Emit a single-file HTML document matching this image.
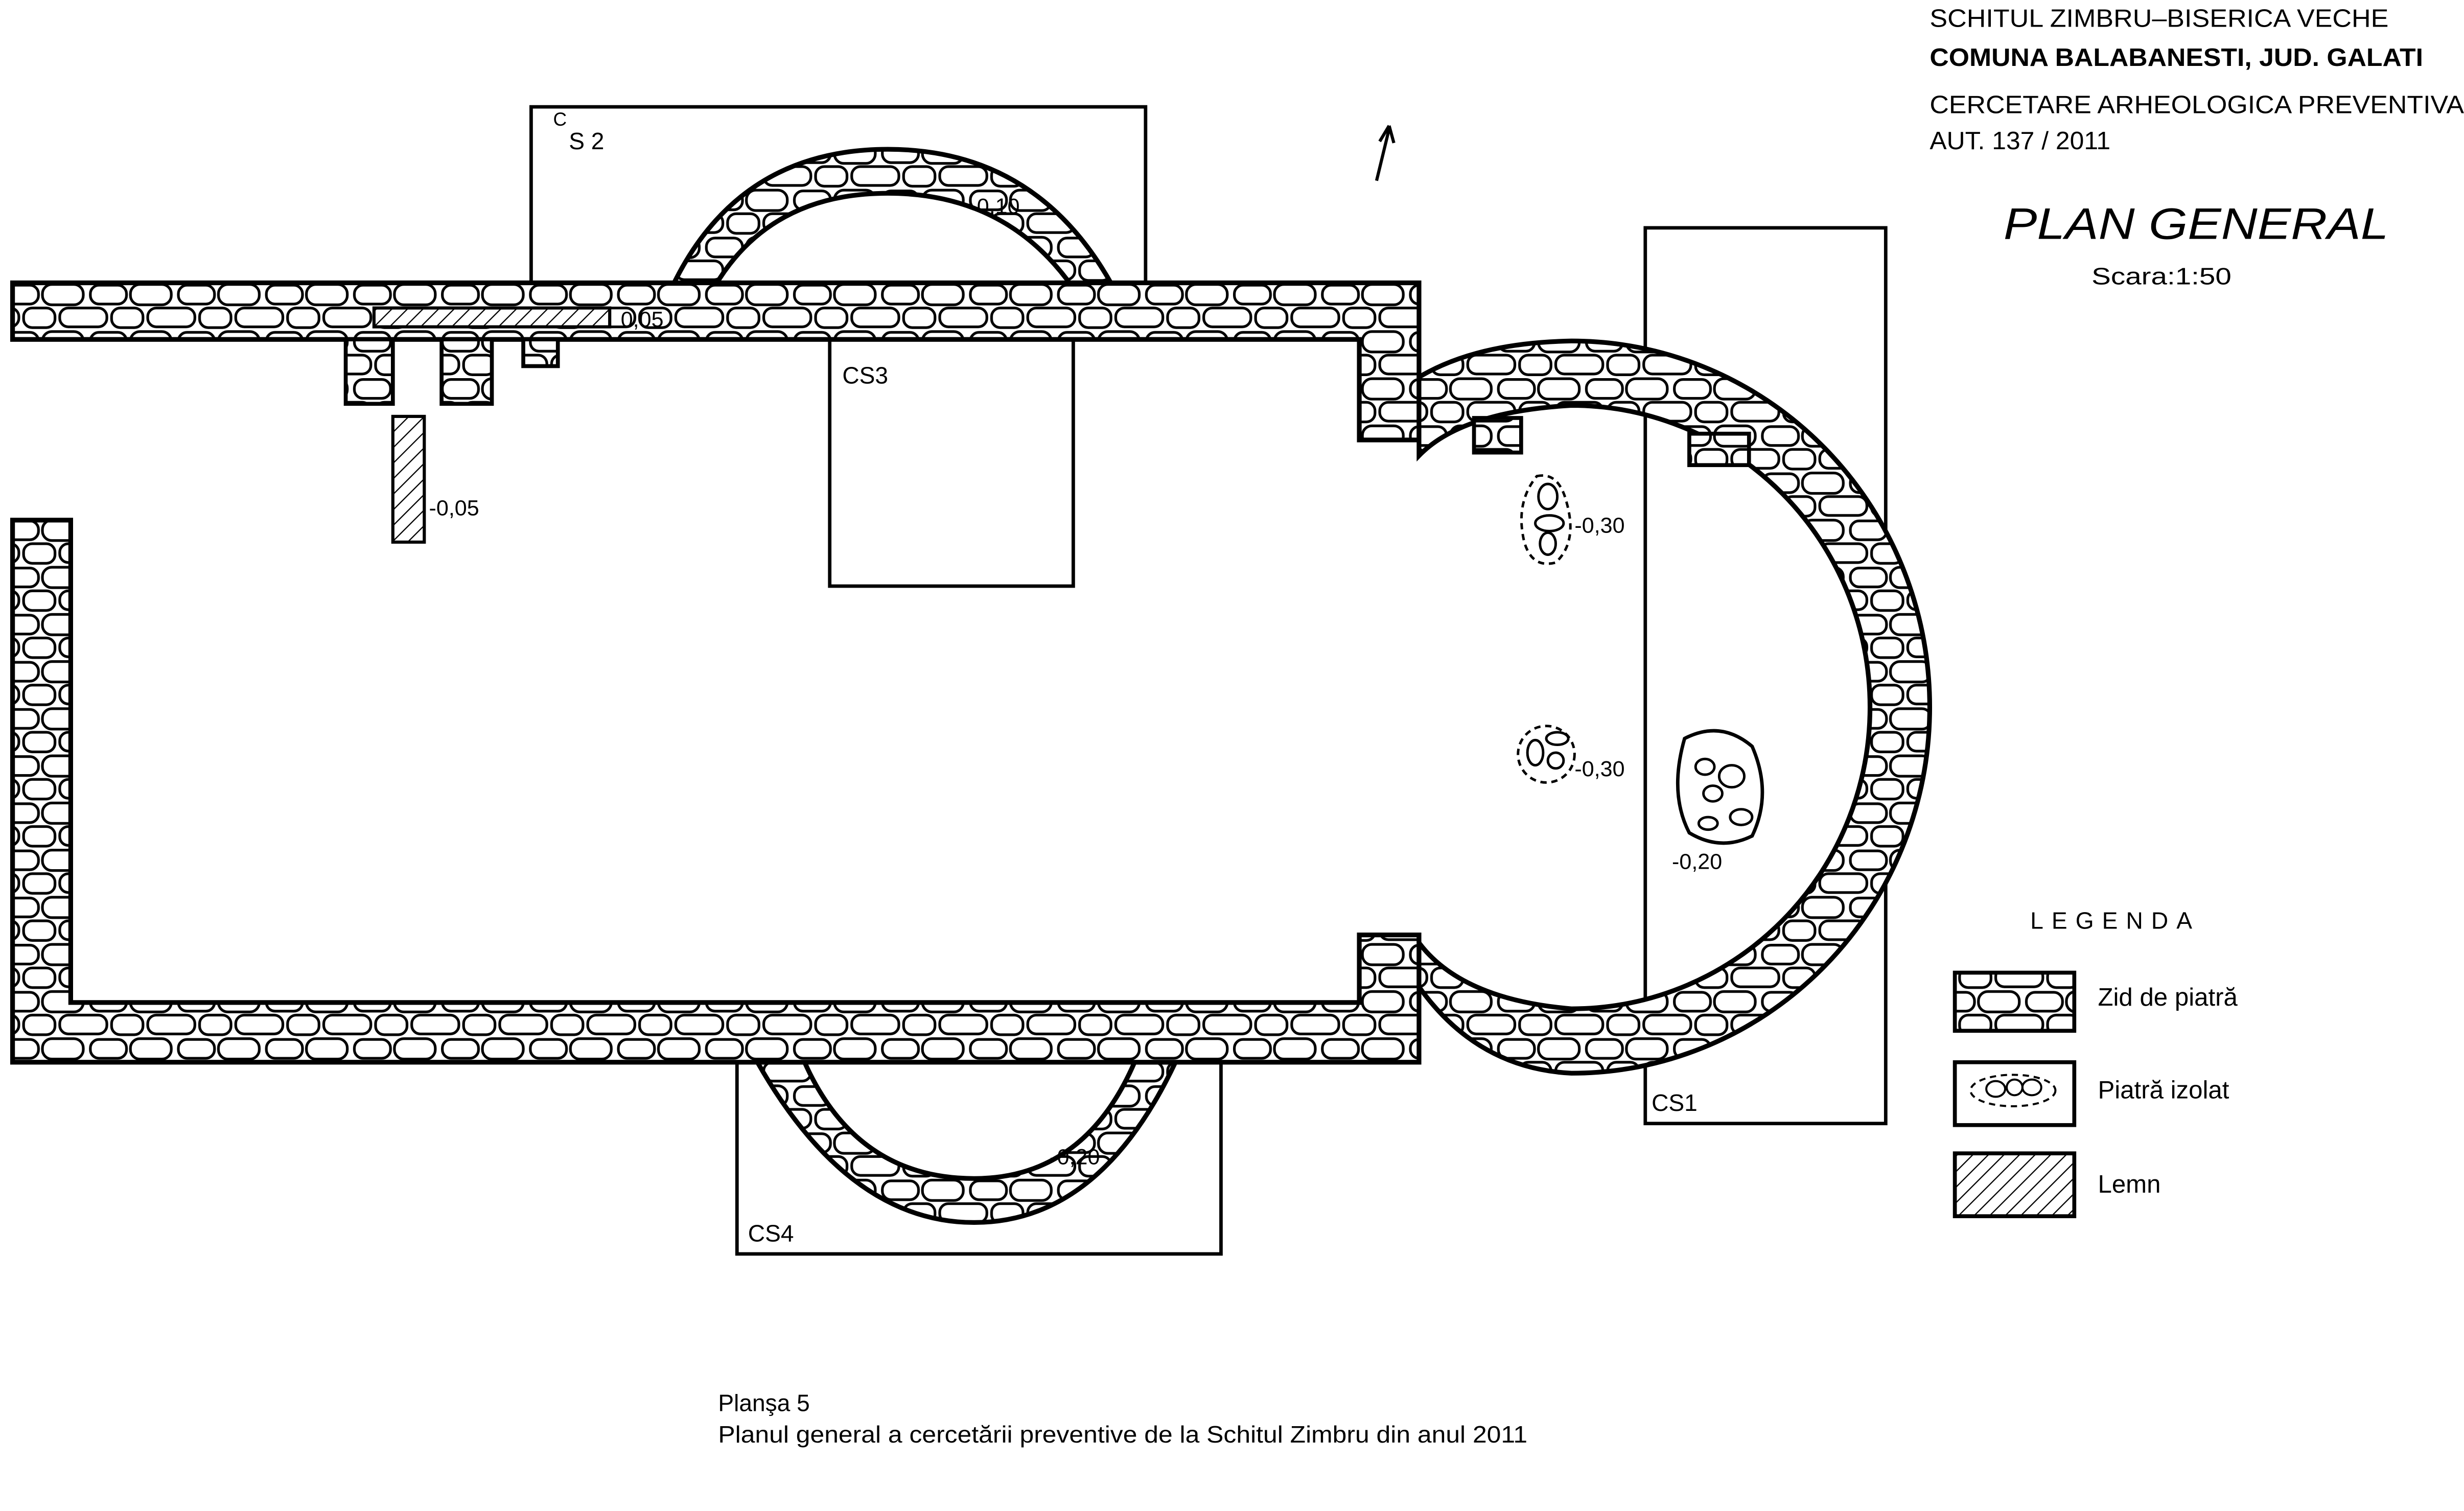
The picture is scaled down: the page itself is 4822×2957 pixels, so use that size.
<!DOCTYPE html>
<html><head><meta charset="utf-8"><style>
html,body{margin:0;padding:0;background:#fff}
svg{display:block}
text{font-family:"Liberation Sans",sans-serif;fill:#000}
</style></head><body>
<svg width="4822" height="2957" viewBox="0 0 1568 961.6" preserveAspectRatio="none" xmlns="http://www.w3.org/2000/svg">
<defs>
<pattern id="st" patternUnits="userSpaceOnUse" width="56" height="30">
<rect width="56" height="30" fill="#fff"/>
<g fill="none" stroke="#000" stroke-width="1.7">
<rect x="1.5" y="1.5" width="23" height="12" rx="5.5"/>
<rect x="27" y="1" width="26" height="13" rx="6"/>
<rect x="-12" y="16" width="24" height="12" rx="5.5"/>
<rect x="15" y="16" width="20" height="12.5" rx="5.5"/>
<rect x="38" y="16" width="24" height="12" rx="5.5"/>
</g>
</pattern>
<pattern id="hat" patternUnits="userSpaceOnUse" width="7" height="7" patternTransform="rotate(45)">
<rect width="7" height="7" fill="#fff"/><line x1="0" y1="0" x2="0" y2="7" stroke="#000" stroke-width="1.5"/>
</pattern>
</defs>

<g fill="none" stroke="#000" stroke-width="2.2">
<rect x="338" y="68" width="391" height="112"/>
<rect x="528" y="216" width="155" height="157"/>
<rect x="1047" y="145" width="153" height="570"/>
<rect x="469" y="676" width="308" height="122"/>
</g>

<path d="M428,182 Q470,95 565,95 Q660,95 708,182 L682,182 Q640,123 565,123 Q490,123 455,182 Z" fill="url(#st)" stroke="#000" stroke-width="3"/>
<path d="M482,676 Q540,778 620,778 Q700,778 748,676 L722,676 Q690,750 620,750 Q545,750 512,676 Z" fill="url(#st)" stroke="#000" stroke-width="3"/>

<path d="M8,180 H903 V280 H865 V216 H8 Z" fill="url(#st)" stroke="#000" stroke-width="3"/>
<path d="M8,331 H45 V638 H865 V595 H903 V676 H8 Z" fill="url(#st)" stroke="#000" stroke-width="3"/>
<path d="M903,240 Q940,218 1000,217 A228,233 0 0 1 1000,683 Q940,680 903,628 L903,600 Q930,636 1000,642 A190,192 0 0 0 1000,258 Q930,262 903,290 Z" fill="url(#st)" stroke="#000" stroke-width="3"/>
<rect x="938" y="266" width="30" height="22" fill="url(#st)" stroke="#000" stroke-width="2.5"/>
<rect x="1075" y="276" width="38" height="20" fill="url(#st)" stroke="#000" stroke-width="2.5"/>

<rect x="220" y="216" width="30" height="41" fill="url(#st)" stroke="#000" stroke-width="2.5"/>
<rect x="281" y="216" width="32" height="41" fill="url(#st)" stroke="#000" stroke-width="2.5"/>
<rect x="333" y="216" width="22" height="17" fill="url(#st)" stroke="#000" stroke-width="2.5"/>
<rect x="238" y="196" width="150" height="12" fill="url(#hat)" stroke="#000" stroke-width="2"/>
<rect x="250" y="265" width="20" height="80" fill="url(#hat)" stroke="#000" stroke-width="2"/>

<g fill="none" stroke="#000" stroke-width="1.6">
<path d="M978,303 Q992,300 997,320 Q1004,345 990,358 Q975,362 970,345 Q964,320 978,303 Z" stroke-dasharray="4,3"/>
<ellipse cx="985" cy="316" rx="6" ry="8"/><ellipse cx="986" cy="333" rx="9" ry="5"/><ellipse cx="985" cy="346" rx="5" ry="7"/>
<ellipse cx="984" cy="480" rx="18" ry="18" stroke-dasharray="4,3"/>
<ellipse cx="977" cy="479" rx="5" ry="8"/><ellipse cx="991" cy="470" rx="7" ry="4"/><ellipse cx="990" cy="484" rx="5" ry="5"/>
<path d="M1072,470 Q1095,458 1115,475 Q1128,505 1115,532 Q1095,542 1075,530 Q1062,505 1072,470 Z" stroke-width="2.2"/>
<ellipse cx="1085" cy="488" rx="6" ry="5"/><ellipse cx="1102" cy="494" rx="8" ry="7"/><ellipse cx="1090" cy="505" rx="6" ry="5"/><ellipse cx="1108" cy="520" rx="7" ry="5"/><ellipse cx="1087" cy="524" rx="6" ry="4"/>
</g>

<line x1="876" y1="115" x2="884" y2="82" stroke="#000" stroke-width="2"/>
<path d="M884,80 L878,90 M884,80 L887,91" stroke="#000" stroke-width="2" fill="none"/>

<g font-size="15">
<text x="352" y="80" font-size="12">C</text><text x="362" y="95">S 2</text>
<text x="536" y="244">CS3</text>
<text x="1051" y="707">CS1</text>
<text x="476" y="790">CS4</text>
<text x="395" y="208" font-size="14">0,05</text>
<text x="273" y="328" font-size="14">-0,05</text>
<text x="617" y="136" font-size="14">-0,10</text>
<text x="1002" y="339" font-size="14">-0,30</text>
<text x="1002" y="494" font-size="14">-0,30</text>
<text x="1064" y="553" font-size="14">-0,20</text>
<text x="668" y="741" font-size="14">-0,20</text>
</g>

<g font-size="16">
<text x="1228" y="17" textLength="292" lengthAdjust="spacingAndGlyphs">SCHITUL ZIMBRU–BISERICA VECHE</text>
<text x="1228" y="42" font-weight="bold" textLength="314" lengthAdjust="spacingAndGlyphs">COMUNA BALABANESTI, JUD. GALATI</text>
<text x="1228" y="72" textLength="340" lengthAdjust="spacingAndGlyphs">CERCETARE  ARHEOLOGICA  PREVENTIVA</text>
<text x="1228" y="95" textLength="115" lengthAdjust="spacingAndGlyphs">AUT. 137 / 2011</text>
</g>
<text x="1275" y="152" font-size="28" font-style="italic" textLength="245" lengthAdjust="spacingAndGlyphs">PLAN GENERAL</text>
<text x="1331" y="181" font-size="15" textLength="89" lengthAdjust="spacingAndGlyphs">Scara:1:50</text>

<text x="1292" y="591" font-size="15" textLength="103" lengthAdjust="spacing">LEGENDA</text>
<rect x="1244" y="619" width="76" height="37" fill="url(#st)" stroke="#000" stroke-width="2.5"/>
<rect x="1244" y="676" width="76" height="40" fill="#fff" stroke="#000" stroke-width="2.5"/>
<g fill="none" stroke="#000" stroke-width="1.3">
<ellipse cx="1281" cy="694" rx="27" ry="10" stroke-dasharray="4,3"/>
<ellipse cx="1270" cy="693" rx="6" ry="5"/><ellipse cx="1282" cy="692" rx="5" ry="5"/><ellipse cx="1293" cy="692" rx="6" ry="5"/>
</g>
<rect x="1244" y="734" width="76" height="40" fill="url(#hat)" stroke="#000" stroke-width="2.5"/>
<text x="1335" y="640" font-size="16">Zid de piatră</text>
<text x="1335" y="699" font-size="16">Piatră izolat</text>
<text x="1335" y="759" font-size="16">Lemn</text>

<text x="457" y="898" font-size="15">Planşa 5</text>
<text x="457" y="918" font-size="15" textLength="515" lengthAdjust="spacingAndGlyphs">Planul general a cercetării preventive de la Schitul Zimbru din anul 2011</text>
</svg>
</body></html>
